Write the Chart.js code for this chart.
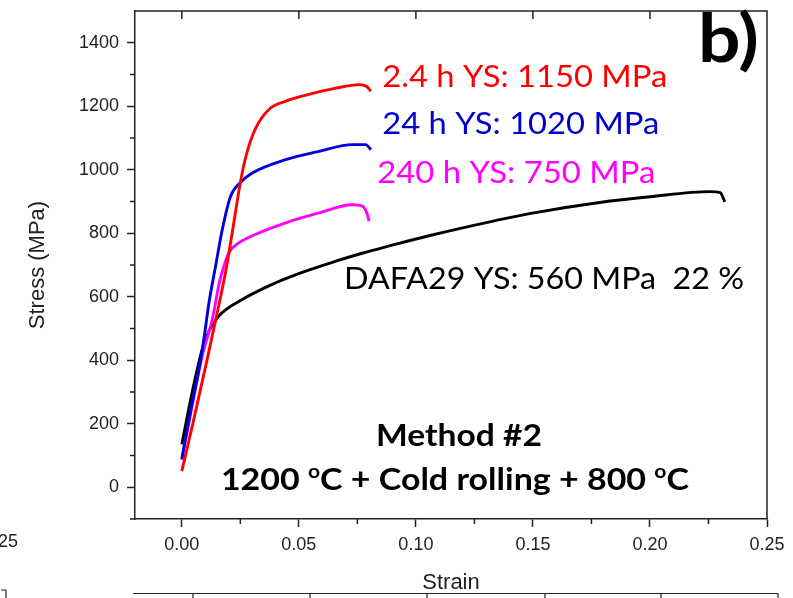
<!DOCTYPE html>
<html><head><meta charset="utf-8">
<script src="https://cdn.jsdelivr.net/npm/chart.js@4"></script>
<style>html,body{margin:0;padding:0;background:#fff}#wrap{width:793px;height:598px}</style>
</head><body><div id="wrap"><canvas id="c" width="793" height="598"></canvas></div>
<script>
// ---- tick values ----
const xTickValues = [0, 0.05, 0.10, 0.15, 0.20, 0.25];
const yTickValues = [0, 200, 400, 600, 800, 1000, 1200, 1400];
const xMinorTicks = [0.025, 0.075, 0.125, 0.175, 0.225];
const yMinorTicks = [-100, 100, 300, 500, 700, 900, 1100, 1300];

// ---- series (strain, stress MPa) ----
const red24hStrain  = [0, 0.005, 0.010, 0.015, 0.019, 0.0215, 0.023, 0.025, 0.0273, 0.0315, 0.0372, 0.0445, 0.0514, 0.0658, 0.0758, 0.079, 0.0808];
const red24hStress  = [51, 210, 375, 545, 690, 800, 870, 960, 1040, 1130, 1190, 1216, 1232, 1257, 1268, 1262, 1247];

const blue24Strain  = [0, 0.004, 0.0073, 0.0095, 0.0116, 0.0144, 0.0173, 0.0208, 0.025, 0.0301, 0.0444, 0.0586, 0.0729, 0.0786, 0.0808];
const blue24Stress  = [90, 250, 371, 470, 581, 695, 812, 916, 960, 990, 1032, 1058, 1079, 1079, 1063];

const mag240Strain  = [0, 0.004, 0.0087, 0.013, 0.0162, 0.0187, 0.0201, 0.024, 0.0301, 0.0444, 0.0586, 0.0729, 0.0772, 0.079, 0.080];
const mag240Stress  = [86, 240, 413, 528, 650, 712, 739, 768, 792, 833, 864, 890, 885, 865, 838];

const dafaStrain    = [0, 0.0044, 0.0087, 0.0116, 0.0158, 0.0258, 0.0401, 0.0488, 0.0658, 0.077, 0.0886, 0.106, 0.134, 0.1485, 0.1785, 0.200, 0.2256, 0.230, 0.232];
const dafaStress    = [135, 298, 434, 492, 539, 591, 644, 670, 712, 737, 760, 793, 840, 862, 897, 915, 931, 928, 899];

const seriesNames = ['2.4 h', '24 h', '240 h', 'DAFA29'];

function pts(xs, ys) { return xs.map((x, i) => ({x: x, y: ys[i]})); }

const AX = '#222';
const TICKFONT = {family: "'Liberation Sans', Arial, sans-serif", size: 18};

function lineDs(label, xs, ys, color) {
  return {label, data: pts(xs, ys), borderColor: color, backgroundColor: color, showLine: true,
    pointRadius: 0, borderWidth: 2.9, cubicInterpolationMode: 'monotone', fill: false};
}

// text drawn at data coordinates, stretched horizontally to a target width
function drawFit(ctx, parts, x, y, size, weight, targetW, color) {
  ctx.save();
  ctx.fillStyle = color;
  ctx.textBaseline = 'alphabetic';
  ctx.textAlign = 'left';
  let w = 0;
  const fam = "Lato, 'Open Sans', sans-serif";
  parts.forEach(p => {
    ctx.font = weight + ' ' + (p.sup ? size * 0.62 : size) + 'px ' + fam;
    p.w = ctx.measureText(p.t).width;
    w += p.w;
  });
  const sx = targetW / w;
  ctx.translate(x, y);
  ctx.scale(sx, 1);
  let cx = 0;
  parts.forEach(p => {
    ctx.font = weight + ' ' + (p.sup ? size * 0.62 : size) + 'px ' + fam;
    ctx.fillText(p.t, cx, p.sup ? -size * 0.38 : 0);
    cx += p.w;
  });
  ctx.restore();
}

const annotations = [
  {parts: [{t: '2.4 h YS: 1150 MPa'}], sx: 0.0856, sy: 1261, size: 31, weight: 'normal', w: 285, color: '#ff0000'},
  {parts: [{t: '24 h YS: 1020 MPa'}], sx: 0.0856, sy: 1114, size: 31, weight: 'normal', w: 277, color: '#0000cc'},
  {parts: [{t: '240 h YS: 750 MPa'}], sx: 0.0835, sy: 959, size: 31, weight: 'normal', w: 278, color: '#ff00ff'},
  {parts: [{t: 'DAFA29 YS: 560 MPa  22 %'}], sx: 0.0693, sy: 623, size: 31, weight: 'normal', w: 400, color: '#000'},
  {parts: [{t: 'Method #2'}], sx: 0.0830, sy: 129, size: 31, weight: 'bold', w: 166, color: '#000'},
  {parts: [{t: '1200 '}, {t: 'o', sup: true}, {t: 'C + Cold rolling + 800 '}, {t: 'o', sup: true}, {t: 'C'}], sx: 0.0167, sy: -9, size: 31, weight: 'bold', w: 468, color: '#000'},
  {parts: [{t: 'b)'}], sx: 0.2205, sy: 1340, size: 66, weight: 'bold', w: 61, color: '#000'}
];

const framePlugin = {
  id: 'frame',
  afterDraw(chart) {
    const {ctx, chartArea: a, scales: {x, y}} = chart;
    ctx.save();
    ctx.strokeStyle = AX;
    ctx.lineWidth = 1.5;
    ctx.beginPath();
    ctx.moveTo(a.left, a.top); ctx.lineTo(a.right, a.top); ctx.lineTo(a.right, a.bottom);
    ctx.stroke();
    // top inward major ticks
    ctx.beginPath();
    xTickValues.forEach(v => { const px = x.getPixelForValue(v); if (px < a.right - 2) { ctx.moveTo(px, a.top); ctx.lineTo(px, a.top + 8); } });
    // minor ticks outward
    xMinorTicks.forEach(v => { const px = x.getPixelForValue(v); ctx.moveTo(px, a.bottom); ctx.lineTo(px, a.bottom + 5); });
    yMinorTicks.forEach(v => { const py = y.getPixelForValue(v); ctx.moveTo(a.left, py); ctx.lineTo(a.left - 5, py); });
    ctx.stroke();
    // decorative edge of the neighbouring panels
    ctx.lineWidth = 1.2;
    ctx.beginPath();
    ctx.moveTo(133, 593.5); ctx.lineTo(778, 593.5);
    [193, 310, 427, 545, 661, 778].forEach(px => { ctx.moveTo(px, 593.5); ctx.lineTo(px, 598); });
    ctx.moveTo(1, 590); ctx.lineTo(6, 590); ctx.lineTo(6, 598);
    ctx.stroke();
    ctx.fillStyle = AX;
    ctx.font = "18px 'Liberation Sans', Arial, sans-serif";
    ctx.textBaseline = 'alphabetic';
    ctx.fillText('25', -2, 547);
    ctx.restore();
    annotations.forEach(an => {
      drawFit(ctx, an.parts, x.getPixelForValue(an.sx), y.getPixelForValue(an.sy), an.size, an.weight, an.w, an.color);
    });
  }
};

function zeroPad(s) { s.paddingTop = 0; s.paddingBottom = 0; s.paddingLeft = 0; s.paddingRight = 0; }

new Chart(document.getElementById('c'), {
  type: 'scatter',
  data: {
    datasets: [
      lineDs(seriesNames[0], red24hStrain, red24hStress, '#ff0000'),
      lineDs(seriesNames[1], blue24Strain, blue24Stress, '#0000dd'),
      lineDs(seriesNames[2], mag240Strain, mag240Stress, '#ff00ff'),
      lineDs(seriesNames[3], dafaStrain, dafaStress, '#000000')
    ]
  },
  options: {
    responsive: false, animation: false, devicePixelRatio: 1,
    layout: {padding: {top: 11, right: 26, left: 0, bottom: 0}},
    plugins: {legend: {display: false}, tooltip: {enabled: false}},
    scales: {
      x: {
        type: 'linear', min: -0.02, max: 0.25,
        afterBuildTicks: s => { s.ticks = xTickValues.map(v => ({value: v})); },
        afterFit: s => { s.height = 79; zeroPad(s); },
        ticks: {callback: v => Number(v).toFixed(2), font: TICKFONT, color: AX, padding: 7, maxRotation: 0, autoSkip: false},
        grid: {display: true, drawOnChartArea: false, drawTicks: true, tickLength: 8, tickColor: AX, tickWidth: 1.5},
        border: {display: true, color: AX, width: 1.5},
        title: {display: true, text: 'Strain', color: AX, font: {family: "'Liberation Sans', Arial, sans-serif", size: 22}, padding: {top: 0, bottom: 2}}
      },
      y: {
        type: 'linear', min: -100, max: 1500,
        afterBuildTicks: s => { s.ticks = yTickValues.map(v => ({value: v})); },
        afterFit: s => { s.width = 135; zeroPad(s); },
        ticks: {callback: v => String(v), font: TICKFONT, color: AX, padding: 8, autoSkip: false},
        grid: {display: true, drawOnChartArea: false, drawTicks: true, tickLength: 8, tickColor: AX, tickWidth: 1.5},
        border: {display: true, color: AX, width: 1.5},
        title: {display: true, text: 'Stress (MPa)', color: AX, font: {family: "'Liberation Sans', Arial, sans-serif", size: 22}, padding: {top: 25, bottom: 0}}
      }
    }
  },
  plugins: [framePlugin]
});
</script>
</body></html>
